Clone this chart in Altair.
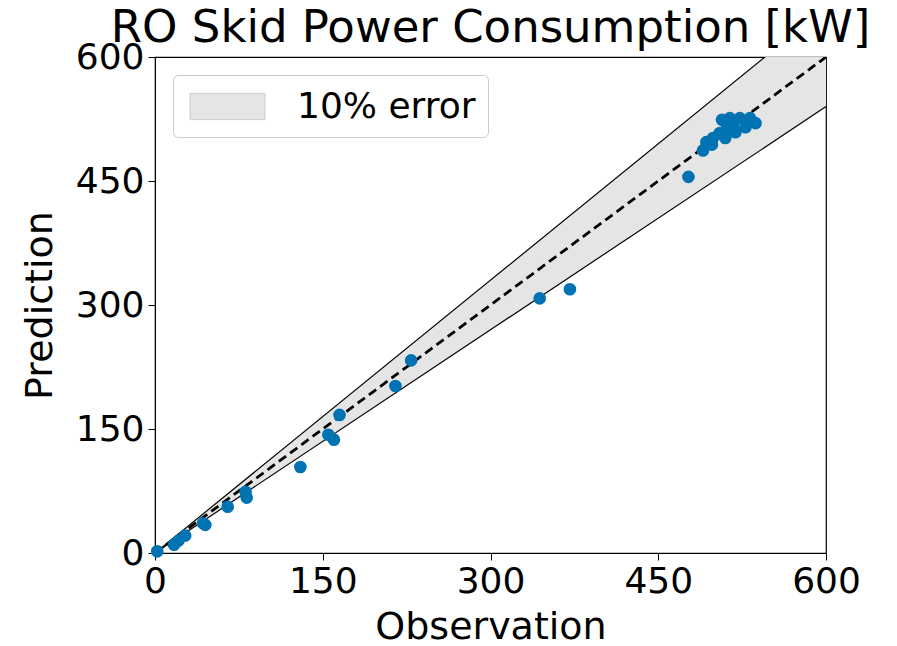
import altair as alt
import pandas as pd
import numpy as np

obs = [2, 17, 21, 27, 43, 45, 65, 81, 82, 130, 155, 160, 165, 215, 229, 344, 371, 477,
       490, 493, 498, 499, 505, 507, 510, 511, 514, 519, 523, 528, 532, 537, 512, 517]
pred = [2, 10, 15, 21, 36, 34, 56, 74, 67, 104, 143, 137, 167, 202, 233, 308, 319, 455,
        487, 497, 494, 502, 508, 524, 502, 512, 526, 509, 526, 515, 526, 520, 520, 516]

line_x = [0, 600]
band_label = "10% error"

pts = pd.DataFrame({"obs": obs, "pred": pred})
ref = pd.DataFrame({"x": line_x})
ref["y"] = ref["x"]
ref["lo"] = ref["x"] * 0.9
ref["hi"] = ref["x"] * 1.1
ref["band"] = band_label

xs = alt.Scale(domain=[0, 600], nice=False)
ys = alt.Scale(domain=[0, 600], nice=False)
ticks = [0, 150, 300, 450, 600]

xaxis = alt.Axis(values=ticks, title="Observation", grid=False, labelFontSize=36,
                 titleFontSize=38, tickSize=7, tickColor="black", domainColor="black",
                 labelColor="black", titleColor="black", labelPadding=4, titlePadding=9,
                 titleFontWeight="normal", labelFlush=False)
yaxis = alt.Axis(values=ticks, title="Prediction", grid=False, labelFontSize=36,
                 titleFontSize=38, tickSize=7, tickColor="black", domainColor="black",
                 labelColor="black", titleColor="black", labelPadding=4, titlePadding=16,
                 titleFontWeight="normal", labelFlush=False)

base = alt.Chart(ref)

band = base.mark_area(clip=True, opacity=1).encode(
    x=alt.X("x:Q", scale=xs, axis=xaxis),
    y=alt.Y("lo:Q", scale=ys, axis=yaxis),
    y2="hi:Q",
    color=alt.Color("band:N",
                    scale=alt.Scale(domain=[band_label], range=["#e5e5e5"]),
                    legend=alt.Legend(title=None, orient="none", legendX=18, legendY=18,
                                      labelFontSize=36, labelColor="black", labelLimit=0,
                                      symbolType="M-2,-0.7H2V0.7H-2Z", symbolSize=1406,
                                      symbolStrokeColor="#cccccc", symbolStrokeWidth=1,
                                      strokeColor="#cccccc", cornerRadius=5, padding=12,
                                      fillColor="white", labelOffset=50, symbolOffset=23)),
)
lo_line = base.mark_line(clip=True, color="black", strokeWidth=1.2).encode(
    x=alt.X("x:Q", scale=xs), y=alt.Y("lo:Q", scale=ys))
hi_line = base.mark_line(clip=True, color="black", strokeWidth=1.2).encode(
    x=alt.X("x:Q", scale=xs), y=alt.Y("hi:Q", scale=ys))
diag = base.mark_line(clip=True, color="black", strokeWidth=2.8, strokeDash=[9, 5]).encode(
    x=alt.X("x:Q", scale=xs), y=alt.Y("y:Q", scale=ys))

points = alt.Chart(pts).mark_circle(color="#0173b2", opacity=1, size=160).encode(
    x=alt.X("obs:Q", scale=xs), y=alt.Y("pred:Q", scale=ys))

chart = alt.layer(band, lo_line, hi_line, diag, points).properties(
    width=671, height=496,
    title=alt.TitleParams("RO Skid Power Consumption [kW]", fontSize=45,
                          fontWeight="normal", color="black", offset=-12),
    autosize=alt.AutoSizeParams(type="none"),
    padding={"left": 155, "top": 57, "right": 71, "bottom": 93},
).configure(font="DejaVu Sans").configure_view(stroke="black", strokeWidth=1.2)

chart.save("out.html", embed_options={"renderer": "svg", "actions": False})
